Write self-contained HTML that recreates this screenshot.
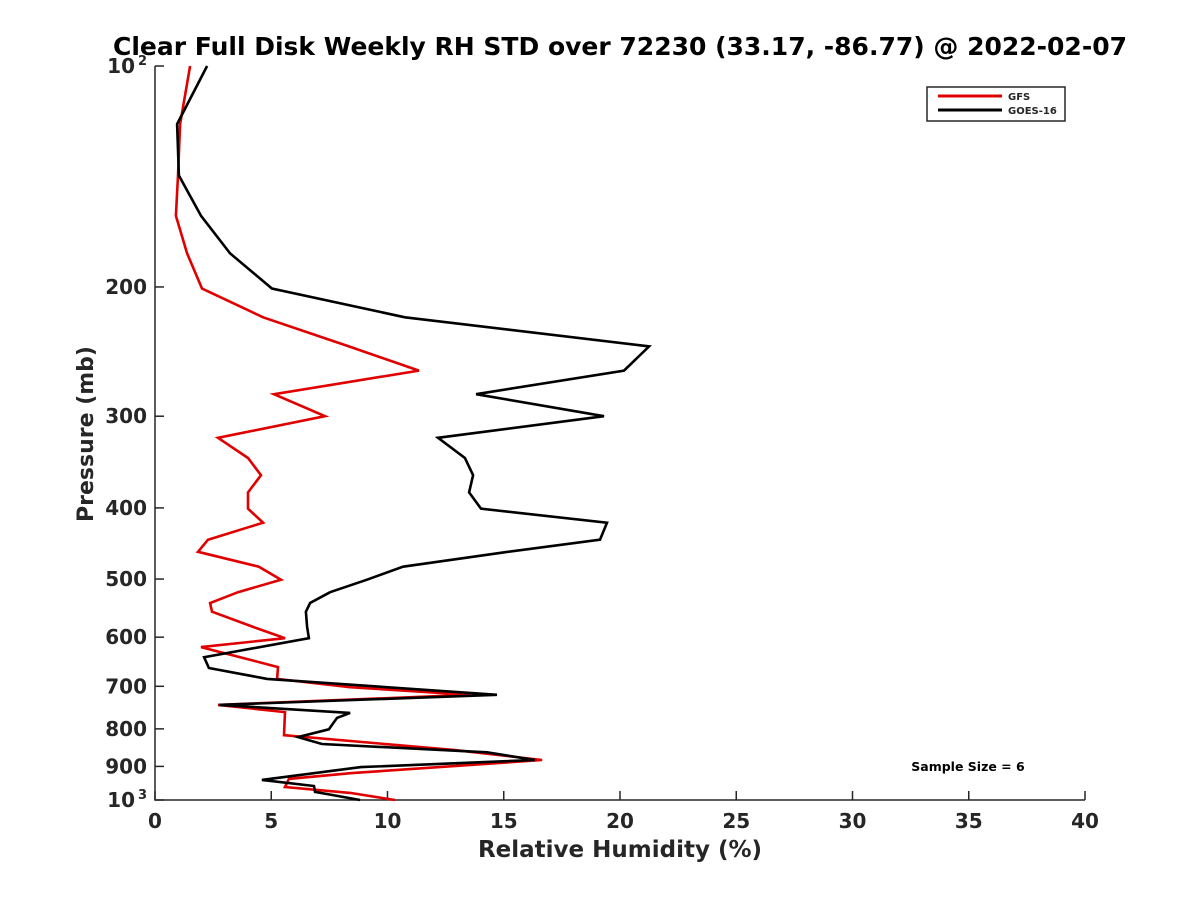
<!DOCTYPE html>
<html><head><meta charset="utf-8"><style>
html,body{margin:0;padding:0;background:#fff;}
svg text{font-family:"DejaVu Sans","Liberation Sans",sans-serif;font-weight:bold;fill:#262626;}
</style></head><body>
<svg id="chart" width="1200" height="900" xmlns="http://www.w3.org/2000/svg">
<rect x="0" y="0" width="1200" height="900" fill="#fff"/>
<text x="620" y="55" text-anchor="middle" font-size="25" style="fill:#000">Clear Full Disk Weekly RH STD over 72230 (33.17, -86.77) @ 2022-02-07</text>
<g id="axes"></g>
<g id="series"></g>
<g>
<rect x="927" y="87" width="138" height="34" fill="#fff" stroke="#262626" stroke-width="1.5"/>
<line x1="938" y1="96" x2="1002" y2="96" stroke="#e00000" stroke-width="3"/>
<text x="1008" y="100" font-size="10">GFS</text>
<line x1="938" y1="110" x2="1002" y2="110" stroke="#000" stroke-width="3"/>
<text x="1008" y="114" font-size="10">GOES-16</text>
</g>
<text x="968" y="771" text-anchor="middle" font-size="12.5" style="fill:#000">Sample Size = 6</text>
<text x="620" y="857" text-anchor="middle" font-size="23">Relative Humidity (%)</text>
<text transform="translate(93,434) rotate(-90)" text-anchor="middle" font-size="22">Pressure (mb)</text>
</svg>
<script>
const xTicks=[0,5,10,15,20,25,30,35,40];
const yTicks=[100,200,300,400,500,600,700,800,900,1000];
const yTickLabels=["10^2","200","300","400","500","600","700","800","900","10^3"];
const goesP=[100,120,141,160,180,201,220,241,260,280,300,321,342,361,381,401,419,442,459,481,501,521,539,554,581,602,639,661,684,719,742,761,773,801,821,839,861,882,902,939,957,975,1000];
const goesRH=[2.24,0.95,1.03,1.98,3.23,5.03,10.75,21.25,20.17,13.81,19.31,12.17,13.33,13.68,13.51,14.02,19.44,19.14,15.18,10.67,9.12,7.53,6.67,6.49,6.54,6.62,2.11,2.32,4.82,14.71,2.75,8.39,7.83,7.48,6.15,7.18,14.28,16.34,8.86,4.6,6.84,6.88,8.82];
const gfsP=[100,120,141,160,180,201,220,241,260,280,300,321,342,361,381,401,419,442,459,481,501,521,539,554,581,602,619,639,659,684,702,719,742,759,816,855,882,919,936,960,978,1000];
const gfsRH=[1.51,1.08,0.99,0.9,1.38,2.02,4.65,8.34,11.35,5.12,7.31,2.71,4.0,4.56,4.0,4.0,4.65,2.28,1.85,4.47,5.42,3.57,2.37,2.45,4.22,5.59,1.98,3.66,5.29,5.25,8.39,13.55,2.71,5.59,5.55,12.9,16.65,8.47,5.76,5.59,8.39,10.32];

const NS="http://www.w3.org/2000/svg";
const X0=155,X1=1085,Y0=66,Y1=800;
const xs=v=>X0+(v-0)/(40-0)*(X1-X0);
const ys=p=>Y0+(Math.log10(p)-2)*(Y1-Y0);
const axes=document.getElementById('axes');
function mk(tag,attrs,parent){const e=document.createElementNS(NS,tag);for(const k in attrs)e.setAttribute(k,attrs[k]);parent.appendChild(e);return e;}
const frame=mk('path',{d:`M${X0},${Y0} L${X0},${Y1} L${X1},${Y1}`,fill:'none',stroke:'#262626','stroke-width':1.5},axes);


xTicks.forEach(v=>{
  const x=xs(v);
  const t=mk('line',{x1:x,y1:Y1,x2:x,y2:Y1-9,stroke:'#262626','stroke-width':1.5},axes);
  
  
  const l=mk('text',{x:x,y:Y1+28,'text-anchor':'middle','font-size':20},axes);
  l.textContent=v;
  
  
});
yTicks.forEach((p,i)=>{
  const y=ys(p);
  const t=mk('line',{x1:X0,y1:y,x2:X0+9,y2:y,stroke:'#262626','stroke-width':1.5},axes);
  
  
  const lab=yTickLabels[i];
  const l=mk('text',{x:X0-8,y:y+7,'text-anchor':'end','font-size':20},axes);
  if(lab.indexOf('^')>=0){
    const parts=lab.split('^');
    l.setAttribute('x',X0-20);
    l.textContent=parts[0];
    const s=mk('text',{x:X0-8,y:y-1,'text-anchor':'end','font-size':13},axes);
    s.textContent=parts[1];
    
    
  } else l.textContent=lab;
  
  
});
const series=document.getElementById('series');
function line(P,V,color,name){
  const d=P.map((p,i)=>(i?'L':'M')+xs(V[i]).toFixed(1)+','+ys(p).toFixed(1)).join(' ');
  const e=mk('path',{d:d,fill:'none',stroke:color,'stroke-width':2.6,'stroke-linejoin':'miter'},series);
  
  
}
line(gfsP,gfsRH,'#e00000','gfs-line');
line(goesP,goesRH,'#000000','goes16-line');
</script>
</body></html>
